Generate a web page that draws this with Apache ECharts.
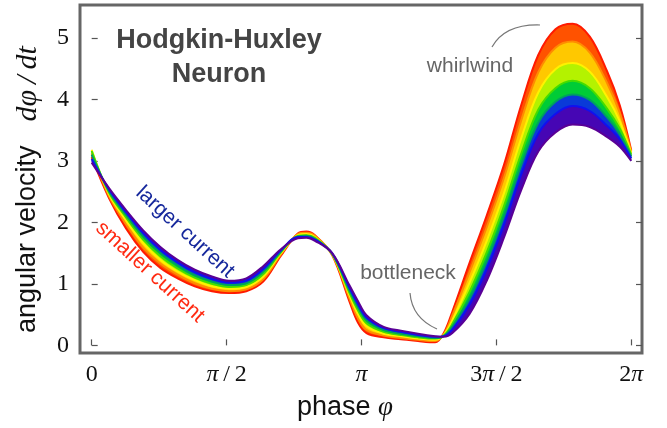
<!DOCTYPE html>
<html>
<head>
<meta charset="UTF-8">
<title>Hodgkin-Huxley neuron phase velocity</title>
<script src="https://cdn.jsdelivr.net/npm/echarts@6/dist/echarts.min.js"></script>
<style>
  html, body { margin: 0; padding: 0; background: #fff; }
  #chart { width: 667px; height: 428px; }
</style>
</head>
<body>
<div id="chart"></div>
<script>
// phase samples (rad)
var phase = [0, 0.2, 0.4, 0.6, 0.8, 1.0, 1.2, 1.4, 1.6, 1.8, 2.0, 2.2, 2.4, 2.5, 2.6, 2.8, 3.0, 3.1, 3.2, 3.4, 3.6, 3.8, 4.0, 4.1, 4.2, 4.4, 4.6, 4.8, 5.0, 5.2, 5.4, 5.6, 5.8, 6.0, 6.15, 6.283];

// angular velocity, smallest current (red) -> largest current (purple)
var velRed    = [3.06, 2.40, 1.90, 1.52, 1.26, 1.09, 0.96, 0.88, 0.85, 0.88, 1.04, 1.45, 1.82, 1.85, 1.79, 1.47, 0.72, 0.37, 0.20, 0.13, 0.10, 0.07, 0.05, 0.20, 0.55, 1.34, 2.11, 2.93, 3.90, 4.72, 5.14, 5.23, 5.02, 4.46, 3.90, 3.17];
var velOrange = [3.12, 2.43, 1.97, 1.59, 1.33, 1.15, 1.01, 0.92, 0.88, 0.91, 1.08, 1.47, 1.81, 1.83, 1.78, 1.48, 0.77, 0.44, 0.25, 0.16, 0.12, 0.09, 0.07, 0.18, 0.49, 1.19, 1.92, 2.72, 3.65, 4.44, 4.84, 4.94, 4.76, 4.27, 3.78, 3.15];
var velYellow = [3.18, 2.46, 2.03, 1.66, 1.39, 1.20, 1.06, 0.96, 0.92, 0.95, 1.12, 1.49, 1.79, 1.81, 1.76, 1.48, 0.82, 0.51, 0.31, 0.19, 0.15, 0.11, 0.09, 0.17, 0.41, 1.02, 1.70, 2.47, 3.36, 4.11, 4.49, 4.59, 4.45, 4.04, 3.64, 3.13];
var velGreen  = [3.16, 2.49, 2.08, 1.72, 1.45, 1.25, 1.10, 1.00, 0.95, 0.98, 1.16, 1.51, 1.78, 1.79, 1.75, 1.49, 0.86, 0.57, 0.36, 0.22, 0.17, 0.13, 0.11, 0.16, 0.35, 0.87, 1.51, 2.26, 3.11, 3.83, 4.18, 4.30, 4.18, 3.85, 3.52, 3.10];
var velTeal   = [3.10, 2.51, 2.12, 1.77, 1.50, 1.30, 1.14, 1.04, 0.98, 1.01, 1.20, 1.52, 1.77, 1.78, 1.73, 1.49, 0.90, 0.62, 0.41, 0.25, 0.19, 0.15, 0.12, 0.15, 0.31, 0.76, 1.37, 2.10, 2.93, 3.62, 3.96, 4.08, 3.99, 3.71, 3.43, 3.07];
var velBlue   = [3.03, 2.54, 2.16, 1.82, 1.55, 1.35, 1.19, 1.08, 1.02, 1.05, 1.24, 1.54, 1.76, 1.76, 1.72, 1.50, 0.94, 0.67, 0.45, 0.28, 0.22, 0.17, 0.14, 0.15, 0.26, 0.66, 1.24, 1.96, 2.77, 3.44, 3.76, 3.89, 3.81, 3.57, 3.35, 3.04];
var velPurple = [2.97, 2.56, 2.20, 1.87, 1.60, 1.39, 1.23, 1.12, 1.05, 1.09, 1.29, 1.56, 1.74, 1.75, 1.70, 1.50, 0.98, 0.72, 0.49, 0.30, 0.24, 0.19, 0.15, 0.14, 0.20, 0.51, 1.05, 1.75, 2.52, 3.15, 3.46, 3.59, 3.55, 3.39, 3.23, 3.00];

var xTickValues = [0, Math.PI / 2, Math.PI, 3 * Math.PI / 2, 2 * Math.PI];
var xTickLabels = ['0', '{i|π}\u2009/\u20092', '{i|π}', '3{i|π}\u2009/\u20092', '2{i|π}'];
var yTickValues = [0, 1, 2, 3, 4, 5];

var curves = [velRed, velOrange, velYellow, velGreen, velTeal, velBlue, velPurple];
var lineColors = ['#ff1a00', '#ff8c00', '#fff200', '#44dd00', '#00a060', '#1010f0', '#5a0096'];
var bandColors = [null, '#ff5200', '#ffc800', '#b4f200', '#00cc36', '#0a3ad8', '#4606b4'];

var chart = echarts.init(document.getElementById('chart'));

// stacked bands: each series carries the gap to the previous curve.
// value goes in column 0 so that the y dimension is the one stacked.
var series = curves.map(function (c, i) {
  var prev = i > 0 ? curves[i - 1] : null;
  var s = {
    type: 'line',
    stack: 'band',
    stackStrategy: 'all',
    smooth: 0.35,
    symbol: 'none',
    silent: true,
    encode: { x: 1, y: 0 },
    data: phase.map(function (p, j) {
      return [prev ? c[j] - prev[j] : c[j], p];
    }),
    lineStyle: { color: lineColors[i], width: 2 }
  };
  if (i > 0) s.areaStyle = { color: bandColors[i], opacity: 1 };
  return s;
});

var tickStyle = { color: '#555', width: 1.2 };

chart.setOption({
  animation: false,
  grid: {
    left: 80, top: 5, right: 25, bottom: 75,
    show: true, borderColor: '#666', borderWidth: 3
  },
  xAxis: {
    type: 'value',
    min: -0.136,
    max: 6.408,
    axisLine: { show: false },
    splitLine: { show: false },
    axisTick: { inside: true, length: 6, lineStyle: tickStyle, customValues: xTickValues },
    axisLabel: {
      customValues: xTickValues,
      margin: 10,
      color: '#111',
      fontFamily: 'Liberation Serif',
      fontSize: 24,
      formatter: function (v) {
        return xTickLabels[Math.round(v / (Math.PI / 2))];
      },
      rich: {
        i: { fontFamily: 'Liberation Serif', fontStyle: 'italic', fontSize: 24, color: '#111' }
      }
    }
  },
  yAxis: [
    {
      type: 'value',
      min: -0.124,
      max: 5.533,
      axisLine: { show: false },
      splitLine: { show: false },
      axisTick: { inside: true, length: 6, lineStyle: tickStyle, customValues: yTickValues },
      axisLabel: {
        customValues: yTickValues,
        margin: 11,
        color: '#111',
        fontFamily: 'Liberation Serif',
        fontSize: 24
      }
    },
    {
      type: 'value',
      position: 'right',
      min: -0.124,
      max: 5.533,
      axisLine: { show: false },
      splitLine: { show: false },
      axisTick: { inside: true, length: 6, lineStyle: tickStyle, customValues: yTickValues },
      axisLabel: { show: false }
    }
  ],
  series: series,
  graphic: [
    {
      type: 'text', x: 219, y: 58, z: 10,
      style: {
        text: 'Hodgkin-Huxley\nNeuron', align: 'center', verticalAlign: 'middle',
        font: 'bold 27px "Liberation Sans"', lineHeight: 34, fill: '#444'
      }
    },
    {
      type: 'text', x: 470, y: 66, z: 10,
      style: { text: 'whirlwind', align: 'center', verticalAlign: 'middle', font: '21px "Liberation Sans"', fill: '#666' }
    },
    {
      type: 'text', x: 408, y: 273, z: 10,
      style: { text: 'bottleneck', align: 'center', verticalAlign: 'middle', font: '21px "Liberation Sans"', fill: '#666' }
    },
    {
      type: 'bezierCurve', z: 10,
      shape: { x1: 492, y1: 47, cpx1: 505, cpy1: 24, x2: 540, y2: 25 },
      style: { stroke: '#777', lineWidth: 1.2, fill: null }
    },
    {
      type: 'bezierCurve', z: 10,
      shape: { x1: 410, y1: 293, cpx1: 412, cpy1: 318, x2: 437, y2: 329 },
      style: { stroke: '#777', lineWidth: 1.2, fill: null }
    },
    {
      type: 'text', x: 185, y: 232, rotation: -0.74, z: 10,
      style: { text: 'larger current', align: 'center', verticalAlign: 'middle', font: '21px "Liberation Sans"', fill: '#16289c' }
    },
    {
      type: 'text', x: 150, y: 272, rotation: -0.74, z: 10,
      style: { text: 'smaller current', align: 'center', verticalAlign: 'middle', font: '21px "Liberation Sans"', fill: '#ff2a12' }
    },
    {
      type: 'text', x: 297, y: 408, z: 10,
      style: {
        text: '{a|phase} {b|φ}', align: 'left', verticalAlign: 'middle',
        font: '27px "Liberation Sans"', fill: '#111',
        rich: {
          a: { fontFamily: 'Liberation Sans', fontSize: 27, fill: '#111' },
          b: { fontFamily: 'Liberation Serif', fontStyle: 'italic', fontSize: 27, fill: '#111' }
        }
      }
    },
    {
      type: 'text', x: 28, y: 333, rotation: Math.PI / 2, z: 10,
      style: {
        text: '{a|angular velocity}{g| }{b|dφ\u2009/\u2009dt}', align: 'left', verticalAlign: 'middle',
        font: '27px "Liberation Sans"', fill: '#111',
        rich: {
          a: { fontFamily: 'Liberation Sans', fontSize: 27, fill: '#111' },
          g: { fontFamily: 'Liberation Sans', fontSize: 27, width: 24 },
          b: { fontFamily: 'Liberation Serif', fontStyle: 'italic', fontSize: 30, fill: '#111' }
        }
      }
    }
  ]
});
</script>
</body>
</html>
